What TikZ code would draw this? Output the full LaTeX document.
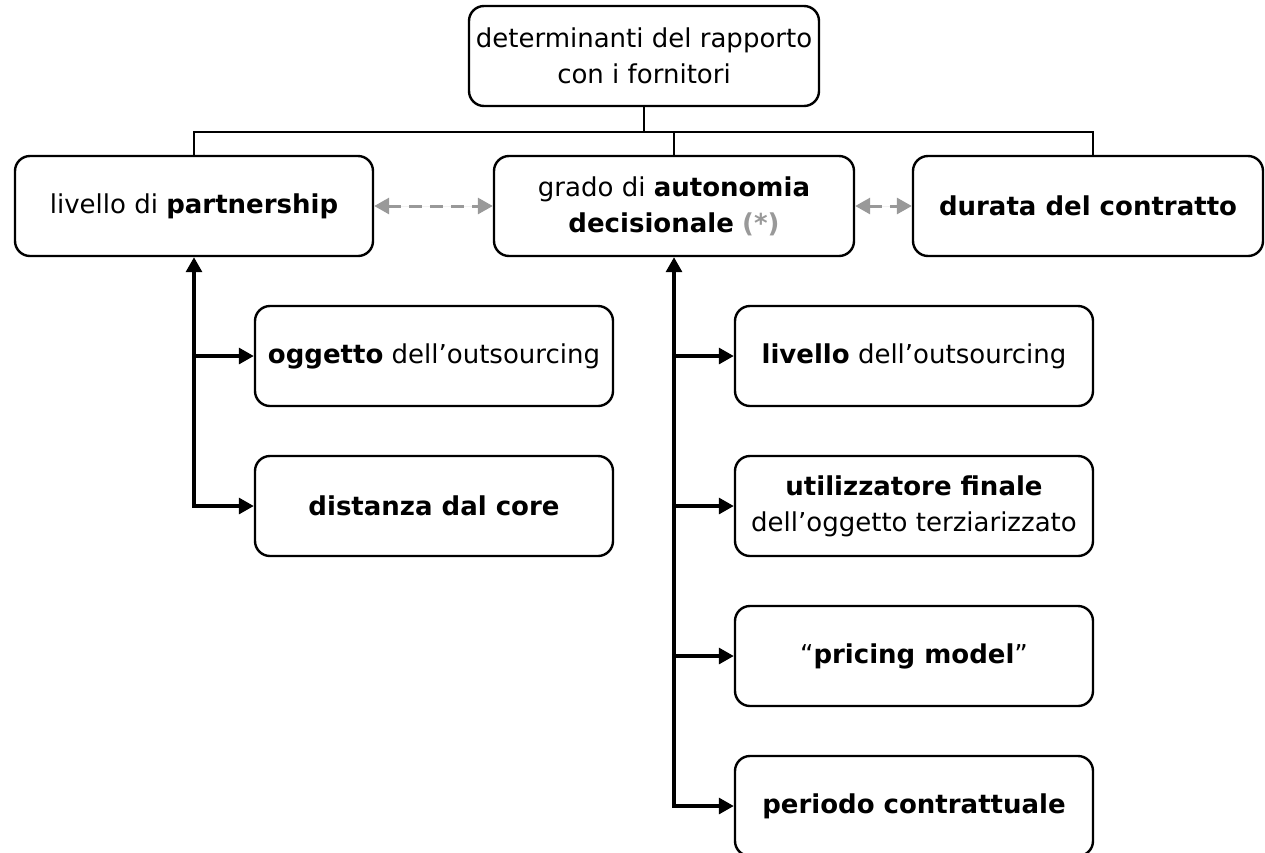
\documentclass[tikz,border=0pt]{standalone}
\usepackage{fontspec}
\setmainfont{DejaVu Sans}
\usetikzlibrary{arrows.meta}
\definecolor{tone}{HTML}{999999}
\begin{document}
\begin{tikzpicture}[x=1pt,y=-1pt,
  box/.style={draw, line width=2.4pt, rounded corners=15pt, align=center,
    font=\fontsize{26}{36}\selectfont, inner sep=0pt, minimum height=100pt},
  wide/.style={box, minimum width=358pt},
  link/.style={draw, line width=2.4pt},
  spine/.style={draw, line width=3.2pt},
  tip/.style={-{Triangle[length=15pt,width=16pt]}},
  bothtips/.style={{Triangle[length=15pt,width=16pt]}-{Triangle[length=15pt,width=16pt]}},
  relate/.style={draw=tone, fill=tone, line width=3pt, dash pattern=on 13pt off 8pt,
    {Triangle[length=15pt,width=16pt]}-{Triangle[length=15pt,width=16pt]}}
]
\useasboundingbox (0,0) rectangle (1265,852);

% root
\node[box, minimum width=350pt] (top) at (644,56) {determinanti del rapporto\\con i fornitori};

% first level
\node[wide] (p) at (194,206) {livello di \textbf{partnership}};
\node[box, minimum width=360pt] (a) at (674,206) {grado di \textbf{autonomia}\\\textbf{decisionale} \textcolor{tone}{\textbf{(*)}}};
\node[box, minimum width=350pt] (d) at (1088,206) {\textbf{durata del contratto}};

% determinants of partnership
\node[wide] (o) at (434,356) {\textbf{oggetto} dell’outsourcing};
\node[wide] (dc) at (434,506) {\textbf{distanza dal core}};

% determinants of autonomy
\node[wide] (l) at (914,356) {\textbf{livello} dell’outsourcing};
\node[wide] (u) at (914,506) {\textbf{utilizzatore finale}\\dell’oggetto terziarizzato};
\node[wide] (pm) at (914,656) {“\textbf{pricing model}”};
\node[wide] (pe) at (914,806) {\textbf{periodo contrattuale}};

% tree bus
\coordinate (bus) at (644,132);
\draw[link] (top.south) -- (bus);
\draw[link] (p.north) |- (bus) -| ([xshift=5pt]d.north);
\draw[link] (a.north) -- (a.north |- bus);

% relations between first-level items
\path[relate] (p.east) -- (a.west);
\path[relate] (a.east) -- (d.west);

% partnership spine
\draw[spine, bothtips] (p.south) |- (dc.west);
\draw[spine, tip] (p.south |- o.west) -- (o.west);

% autonomy spine
\draw[spine, bothtips] (a.south) |- (pe.west);
\draw[spine, tip] (a.south |- l.west) -- (l.west);
\draw[spine, tip] (a.south |- u.west) -- (u.west);
\draw[spine, tip] (a.south |- pm.west) -- (pm.west);
\end{tikzpicture}
\end{document}
